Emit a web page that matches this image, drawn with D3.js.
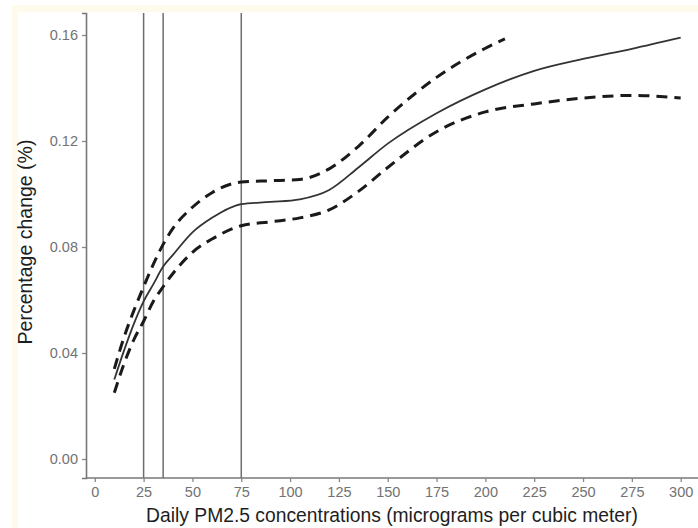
<!DOCTYPE html>
<html><head><meta charset="utf-8">
<script src="https://cdn.jsdelivr.net/npm/d3@7"></script>
<style>html,body{margin:0;padding:0;background:#fff;}svg{display:block;}</style>
</head><body>
<svg id="chart" width="698" height="528"></svg>
<script>
// PM2.5 concentration (µg/m³) for the estimate and confidence bands
const pm      = [10, 15, 20, 25, 30, 35, 40, 50, 60, 75, 90, 105, 120, 135, 150, 175, 200, 225, 250, 275, 300];
const estimate= [0.030,0.041,0.051,0.0595,0.066,0.0726,0.077,0.0855,0.091,0.0962,0.097,0.098,0.1015,0.110,0.119,0.1305,0.1395,0.1465,0.151,0.1548,0.159];
const lower   = [0.025,0.036,0.045,0.052,0.0595,0.065,0.070,0.078,0.083,0.088,0.0895,0.091,0.094,0.101,0.110,0.1235,0.131,0.134,0.1362,0.1372,0.1362];
const pmUpper = [10, 15, 20, 25, 30, 35, 40, 50, 60, 75, 90, 105, 120, 135, 150, 175, 200, 210];
const upper   = [0.034,0.046,0.056,0.065,0.0735,0.081,0.087,0.095,0.1005,0.1045,0.105,0.1055,0.1095,0.118,0.129,0.144,0.155,0.1585];
const guideLines = [25, 35, 75];
const xTicks = [0, 25, 50, 75, 100, 125, 150, 175, 200, 225, 250, 275, 300];
const yTicks = [0.00, 0.04, 0.08, 0.12, 0.16];
const xTitle = "Daily PM2.5 concentrations (micrograms per cubic meter)";
const yTitle = "Percentage change (%)";

(function(){
const svg = d3.select("#chart");
// cream frame
svg.append("rect").attr("x",12).attr("y",5).attr("width",686).attr("height",7).attr("fill","#fffbec");
svg.append("rect").attr("x",12).attr("y",5).attr("width",6).attr("height",523).attr("fill","#fffbec");

const mLeft = 86, mTop = 13, mBottom = 478, mRight = 709;
const x = d3.scaleLinear().domain([-4.5, 314.5]).range([mLeft, mRight]);
const y = d3.scaleLinear().domain([-0.00717, 0.1683]).range([mBottom, mTop]);

const font = "'Liberation Sans', Arial, sans-serif";

// vertical guide lines
svg.append("g").selectAll("line").data(guideLines).join("line")
  .attr("x1", d => x(d)).attr("x2", d => x(d))
  .attr("y1", mTop).attr("y2", mBottom)
  .attr("stroke", "#6e6e6e").attr("stroke-width", 1.5);

// axes
const xAxis = svg.append("g").attr("transform", `translate(0,${mBottom})`)
  .call(d3.axisBottom(x).tickValues(xTicks).tickSize(4).tickPadding(5).tickFormat(d3.format("d")));
const yAxis = svg.append("g").attr("transform", `translate(${mLeft},0)`)
  .call(d3.axisLeft(y).tickValues(yTicks).tickSize(4).tickPadding(4).tickFormat(d3.format(".2f")));
[xAxis, yAxis].forEach(g => {
  g.select(".domain").attr("stroke", "#777").attr("stroke-width", 1.6);
  g.selectAll(".tick line").attr("stroke", "#888").attr("stroke-width", 1.3);
  g.selectAll(".tick text").attr("fill", "#727272").style("font-family", font).style("font-size", "14.5px");
});
xAxis.select(".domain").attr("d", `M${mLeft},0H698`);

// lines
const line = d3.line().curve(d3.curveMonotoneX);
const ptsEst = pm.map((p,i) => [x(p), y(estimate[i])]);
const ptsLow = pm.map((p,i) => [x(p), y(lower[i])]);
const ptsUp  = pmUpper.map((p,i) => [x(p), y(upper[i])]);

svg.append("path").attr("d", line(ptsUp)).attr("fill","none")
  .attr("stroke","#1a1a1a").attr("stroke-width",3).attr("stroke-dasharray","11,7");
svg.append("path").attr("d", line(ptsLow)).attr("fill","none")
  .attr("stroke","#1a1a1a").attr("stroke-width",3).attr("stroke-dasharray","11,7");
svg.append("path").attr("d", line(ptsEst)).attr("fill","none")
  .attr("stroke","#333").attr("stroke-width",1.8);

// titles
svg.append("text").attr("x", 392).attr("y", 522).attr("text-anchor","middle")
  .style("font-family", font).style("font-size","19.3px").attr("fill","#1e1e1e").text(xTitle);
svg.append("text").attr("transform","translate(32,242) rotate(-90)").attr("text-anchor","middle")
  .style("font-family", font).style("font-size","19.5px").attr("fill","#1e1e1e").text(yTitle);
})();
</script>
</body></html>
